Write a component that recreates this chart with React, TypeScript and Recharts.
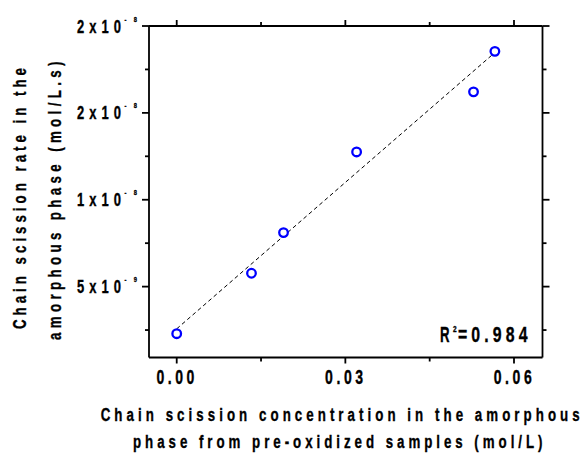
import React from 'react';
import { ComposedChart, Scatter, Line, XAxis, YAxis, Label } from 'recharts';

// ---- data ----
const xValues = [0, 0.0133, 0.019, 0.032, 0.0528, 0.0566];
const yValues = [2.29e-9, 5.77e-9, 8.11e-9, 1.275e-8, 1.621e-8, 1.854e-8];
const fitX = [0, 0.0562];
const fitY = [2.57e-9, 1.836e-8];

const xMajorTicks = [0, 0.03, 0.06];
const xMajorLabels = ['0.00', '0.03', '0.06'];
const xMinorTicks = [0.015, 0.045];

const yMajorTicks = [5e-9, 1e-8, 1.5e-8, 2e-8];
const yMajorMantissa = ['5', '1', '2', '2'];
const yMajorExponent = ['-9', '-8', '-8', '-8'];
const yMinorTicks = [2.5e-9, 7.5e-9, 1.25e-8, 1.75e-8];

const xTitleLines = ['Chain scission concentration in the amorphous', 'phase from pre-oxidized samples (mol/L)'];
const yTitleLines = ['Chain scission rate in the', 'amorphous phase (mol/L.s)'];
const r2Value = '0.984';

const points = xValues.map((x, i) => ({ x, y: yValues[i] }));
const fitData = fitX.map((x, i) => ({ x, y: fitY[i] }));
const xAllTicks = [...xMajorTicks, ...xMinorTicks].sort((a, b) => a - b);
const yAllTicks = [...yMajorTicks, ...yMinorTicks].sort((a, b) => a - b);

const FONT = "'Liberation Sans', Arial, sans-serif";
const AX = { stroke: '#000', strokeWidth: 1.8 };
const MAJ = 7;
const MIN = 4;

const idxOf = (arr: number[], v: number) => arr.findIndex((t) => Math.abs(t - v) < Math.abs(t) * 1e-6 + 1e-15);

// condensed text: horizontally squeezed glyphs, extent set by textLength
const NText = (p: { x: number; y: number; rot?: number; sx?: number; size: number; len?: number; children: React.ReactNode }) => {
  const sx = p.sx || 0.72;
  return (
    <g transform={`translate(${p.x},${p.y}) rotate(${p.rot || 0}) scale(${sx},1)`}>
      <text x={0} y={0} fontFamily={FONT} fontWeight="bold" fontSize={p.size} fill="#000" stroke="#000" strokeWidth={0.35}
        textLength={p.len ? p.len / sx : undefined} lengthAdjust="spacing">{p.children}</text>
    </g>
  );
};

const LeftTick = (p: any) => {
  const { x, y, payload } = p;
  const i = idxOf(yMajorTicks, payload.value);
  if (i < 0) return <line x1={x - MIN} x2={x} y1={y} y2={y} {...AX} />;
  return (
    <g>
      <line x1={x - MAJ} x2={x} y1={y} y2={y} {...AX} />
      <NText x={x - 72} y={y + 6.6} size={18} len={44}>{yMajorMantissa[i] + 'x10'}</NText>
      <NText x={x - 24.5} y={y - 4.4} size={8} len={12.5}>{yMajorExponent[i]}</NText>
    </g>
  );
};

const RightTick = (p: any) => {
  const { x, y, payload } = p;
  const len = idxOf(yMajorTicks, payload.value) < 0 ? MIN : MAJ;
  return <line x1={x} x2={x + len} y1={y} y2={y} {...AX} />;
};

const BottomTick = (p: any) => {
  const { x, y, payload } = p;
  const i = idxOf(xMajorTicks, payload.value);
  if (i < 0) return <line x1={x} x2={x} y1={y} y2={y + MIN} {...AX} />;
  return (
    <g>
      <line x1={x} x2={x} y1={y} y2={y + 6} {...AX} />
      <NText x={x - 20.3} y={y + 26.5} size={19.5} len={38}>{xMajorLabels[i]}</NText>
    </g>
  );
};

const TopTick = (p: any) => {
  const { x, y, payload } = p;
  const len = idxOf(xMajorTicks, payload.value) < 0 ? MIN : 6;
  return <line x1={x} x2={x} y1={y - len} y2={y} {...AX} />;
};

const Circle = (p: any) => (
  <circle cx={p.cx} cy={p.cy} r={4.3} fill="#fff" stroke="#0000ff" strokeWidth={2.3} />
);

const Titles = (p: any) => {
  const vb = p.viewBox || { x: 149, y: 357.5, width: 393.5 };
  const left = vb.x;
  const top = vb.y;
  return (
    <g>
      <NText x={left - 48.3} y={top + 63.5} size={18.5} len={479}>{xTitleLines[0]}</NText>
      <NText x={left - 16} y={top + 90.2} size={18.5} len={409.5}>{xTitleLines[1]}</NText>
      <NText x={left - 123.5} y={top - 28.5} rot={-90} size={18.5} len={261}>{yTitleLines[0]}</NText>
      <NText x={left - 88} y={top - 17.5} rot={-90} size={18.5} len={278.5}>{yTitleLines[1]}</NText>
      <NText x={left + 291} y={top - 15.5} sx={0.6} size={22}>R</NText>
      <NText x={left + 304} y={top - 25.5} size={9}>2</NText>
      <NText x={left + 309} y={top - 15.5} size={22} len={69.5}>{'=' + r2Value}</NText>
    </g>
  );
};

export default function App() {
  return (
    <div style={{ position: 'absolute', left: 0, top: 0, width: 581, height: 459, background: '#fff' }}>
      <ComposedChart width={581} height={459} margin={{ top: 16, right: 28.5, left: 89, bottom: 71.5 }}>
        <XAxis xAxisId="b" dataKey="x" type="number" orientation="bottom" domain={[-0.00493, 0.06507]} ticks={xAllTicks} interval={0}
          height={30} axisLine={AX} tickLine={false} tickSize={0} tickMargin={0} tick={<BottomTick />} allowDataOverflow>
          <Label content={(p: any) => <Titles {...p} />} />
        </XAxis>
        <XAxis xAxisId="t" dataKey="x" type="number" orientation="top" domain={[-0.00493, 0.06507]} ticks={xAllTicks} interval={0}
          height={10} axisLine={AX} tickLine={false} tickSize={0} tickMargin={0} tick={<TopTick />} allowDataOverflow />
        <YAxis yAxisId="l" type="number" orientation="left" domain={[0.92e-9, 2e-8]} ticks={yAllTicks} interval={0}
          width={60} axisLine={AX} tickLine={false} tickSize={0} tickMargin={0} tick={<LeftTick />} allowDataOverflow />
        <YAxis yAxisId="r" type="number" orientation="right" domain={[0.92e-9, 2e-8]} ticks={yAllTicks} interval={0}
          width={10} axisLine={AX} tickLine={false} tickSize={0} tickMargin={0} tick={<RightTick />} allowDataOverflow />
        <Line xAxisId="b" yAxisId="l" data={fitData} dataKey="y" type="linear" stroke="#000" strokeWidth={1} strokeDasharray="4 3"
          dot={false} activeDot={false} isAnimationActive={false} />
        <Scatter xAxisId="b" yAxisId="l" data={points} dataKey="y" shape={<Circle />} isAnimationActive={false} />
      </ComposedChart>
    </div>
  );
}
